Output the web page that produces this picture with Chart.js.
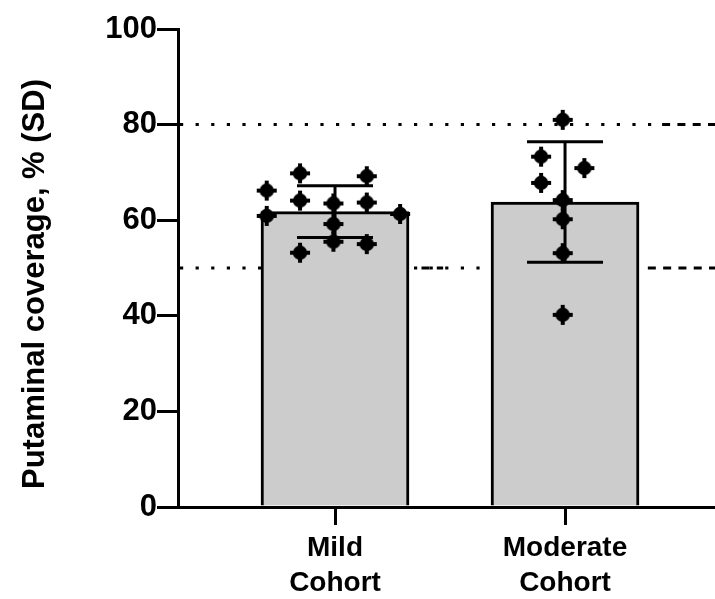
<!DOCTYPE html>
<html>
<head>
<meta charset="utf-8">
<script src="https://cdn.jsdelivr.net/npm/chart.js@4"></script>
<style>
  html, body { margin: 0; padding: 0; background: #ffffff; }
  #wrap { width: 715px; height: 599px; }
</style>
</head>
<body>
<div id="wrap"><canvas id="chart" width="715" height="599"></canvas></div>
<script>
// Cohort categories and their axis labels (two lines each)
const categories = ['Mild Cohort', 'Moderate Cohort'];
const categoryLabels = [['Mild', 'Cohort'], ['Moderate', 'Cohort']];

// Group means and standard deviations (putaminal coverage, %)
const meanCoverage = [61.8, 63.8];
const sdCoverage = [5.4, 12.6];

// Individual patient values per cohort, with the column slot each dot sits in
const mildValues = [69.8, 69.2, 66.2, 64.1, 63.5, 63.7, 60.9, 61.3, 59.2, 55.5, 55.0, 53.2];
const mildSlots = [-1, 1, -2, -1, 0, 1, -2, 2, 0, 0, 1, -1];
const moderateValues = [81.0, 73.3, 70.9, 67.8, 64.2, 60.2, 53.1, 40.2];
const moderateSlots = [0, -1, 1, -1, 0, 0, 0, 0];

// Reference coverage levels
const referenceLevels = [50, 80];

// Y axis tick values
const yTicks = [0, 20, 40, 60, 80, 100];

// Axis title
const yTitle = 'Putaminal coverage, % (SD)';

// ---- drawing helpers ----
const FONT_FAMILY = "'Liberation Sans', Arial, Helvetica, sans-serif";
const INK = '#000000';

// Dot marker: round body with four short points
function makeMarker() {
  const c = document.createElement('canvas');
  c.width = 22; c.height = 22;
  const g = c.getContext('2d');
  g.fillStyle = INK;
  g.beginPath();
  g.arc(11, 11, 7.2, 0, Math.PI * 2);
  g.fill();
  g.fillRect(9, 1, 4, 20);
  g.fillRect(1, 9, 20, 4);
  return c;
}
const marker = makeMarker();

// Slot spacing / centring in category units for each cohort's dot columns
const slotLayout = [
  { spacing: 0.145, shift: -0.007 },
  { spacing: 0.094, shift: -0.010 }
];

function dotsFor(groupIndex, values, slots) {
  const lay = slotLayout[groupIndex];
  return values.map((v, i) => ({
    x: groupIndex + 1 + lay.shift + slots[i] * lay.spacing,
    y: v
  }));
}

const barData = meanCoverage.map((m, i) => ({ x: i + 1, y: m }));
const dotData = dotsFor(0, mildValues, mildSlots).concat(dotsFor(1, moderateValues, moderateSlots));

// Reference lines: dotted across, dashed toward the right edge
const refLinePlugin = {
  id: 'refLines',
  beforeDatasetsDraw(chart) {
    const { ctx, chartArea, scales } = chart;
    const xs = scales.x, ys = scales.y;
    const dashedFrom = { 50: 2.36, 80: 2.422 };
    const dottedTo = { 50: 2.33, 80: 2.396 };
    ctx.save();
    ctx.strokeStyle = INK;
    ctx.lineWidth = 3;
    referenceLevels.forEach(level => {
      const y = ys.getPixelForValue(level);
      ctx.setLineDash([3.2, 12.4]);
      ctx.beginPath();
      ctx.moveTo(chartArea.left + 2, y);
      ctx.lineTo(xs.getPixelForValue(dottedTo[level]), y);
      ctx.stroke();
      ctx.setLineDash([8, 7.3]);
      ctx.beginPath();
      ctx.moveTo(xs.getPixelForValue(dashedFrom[level]), y);
      ctx.lineTo(chartArea.right, y);
      ctx.stroke();
      if (level === 50) {
        ctx.beginPath();
        ctx.moveTo(xs.getPixelForValue(1.376), y);
        ctx.lineTo(xs.getPixelForValue(1.47), y);
        ctx.stroke();
      }
    });
    ctx.restore();
  }
};

// SD whiskers drawn right after the bars
const errorBarPlugin = {
  id: 'sdBars',
  afterDatasetDraw(chart, args) {
    if (args.index !== 0) return;
    const { ctx, scales } = chart;
    const xs = scales.x, ys = scales.y;
    ctx.save();
    ctx.strokeStyle = INK;
    ctx.lineWidth = 3;
    ctx.setLineDash([]);
    meanCoverage.forEach((m, i) => {
      const x = xs.getPixelForValue(i + 1);
      const yTop = ys.getPixelForValue(m + sdCoverage[i]);
      const yBot = ys.getPixelForValue(m - sdCoverage[i]);
      const half = 38;
      ctx.beginPath();
      ctx.moveTo(x, yTop);
      ctx.lineTo(x, yBot);
      ctx.moveTo(x - half, yTop);
      ctx.lineTo(x + half, yTop);
      ctx.moveTo(x - half, yBot);
      ctx.lineTo(x + half, yBot);
      ctx.stroke();
    });
    ctx.restore();
  }
};

// Rotated y-axis title
const yTitlePlugin = {
  id: 'yTitle',
  afterDraw(chart) {
    const { ctx } = chart;
    ctx.save();
    ctx.translate(35, 284);
    ctx.rotate(-Math.PI / 2);
    ctx.fillStyle = INK;
    ctx.font = "bold 31px " + FONT_FAMILY;
    ctx.textAlign = 'center';
    ctx.textBaseline = 'middle';
    ctx.fillText(yTitle, 0, 0);
    ctx.restore();
  }
};

new Chart(document.getElementById('chart'), {
  type: 'bar',
  data: {
    datasets: [
      {
        type: 'bar',
        label: 'Mean',
        data: barData,
        backgroundColor: '#cccccc',
        borderColor: INK,
        borderWidth: 3,
        borderSkipped: 'start',
        barThickness: 148,
        maxBarThickness: 148,
        order: 2
      },
      {
        type: 'scatter',
        label: 'Patients',
        data: dotData,
        pointStyle: marker,
        pointRadius: 10,
        pointHoverRadius: 10,
        showLine: false,
        order: 1
      }
    ]
  },
  options: {
    responsive: false,
    animation: false,
    events: [],
    layout: { padding: { top: 29, right: 0, bottom: 0, left: 0 }, autoPadding: false },
    plugins: {
      legend: { display: false },
      tooltip: { enabled: false }
    },
    scales: {
      x: {
        type: 'linear',
        offset: false,
        min: 0.3174,
        max: 2.652,
        afterBuildTicks(scale) {
          scale.ticks = categories.map((c, i) => ({ value: i + 1 }));
        },
        afterFit(scale) { scale.height = 92; },
        ticks: {
          color: INK,
          font: { family: FONT_FAMILY, size: 28, weight: 'bold', lineHeight: 1.25 },
          padding: 6,
          maxRotation: 0,
          autoSkip: false,
          callback(value) {
            const idx = Math.round(value) - 1;
            return categoryLabels[idx] || '';
          }
        },
        grid: {
          display: true,
          offset: false,
          drawOnChartArea: false,
          drawTicks: true,
          tickLength: 18,
          lineWidth: 3,
          color: INK
        },
        border: { display: true, color: INK, width: 3 }
      },
      y: {
        type: 'linear',
        min: 0,
        max: 100,
        afterBuildTicks(scale) {
          scale.ticks = yTicks.map(v => ({ value: v }));
        },
        afterFit(scale) { scale.width = 178; },
        ticks: {
          color: INK,
          font: { family: FONT_FAMILY, size: 31, weight: 'bold' },
          padding: 0
        },
        grid: {
          display: true,
          drawOnChartArea: false,
          drawTicks: true,
          tickLength: 21,
          lineWidth: 3,
          color: INK
        },
        border: { display: true, color: INK, width: 3 }
      }
    }
  },
  plugins: [refLinePlugin, errorBarPlugin, yTitlePlugin]
});
</script>
</body>
</html>
